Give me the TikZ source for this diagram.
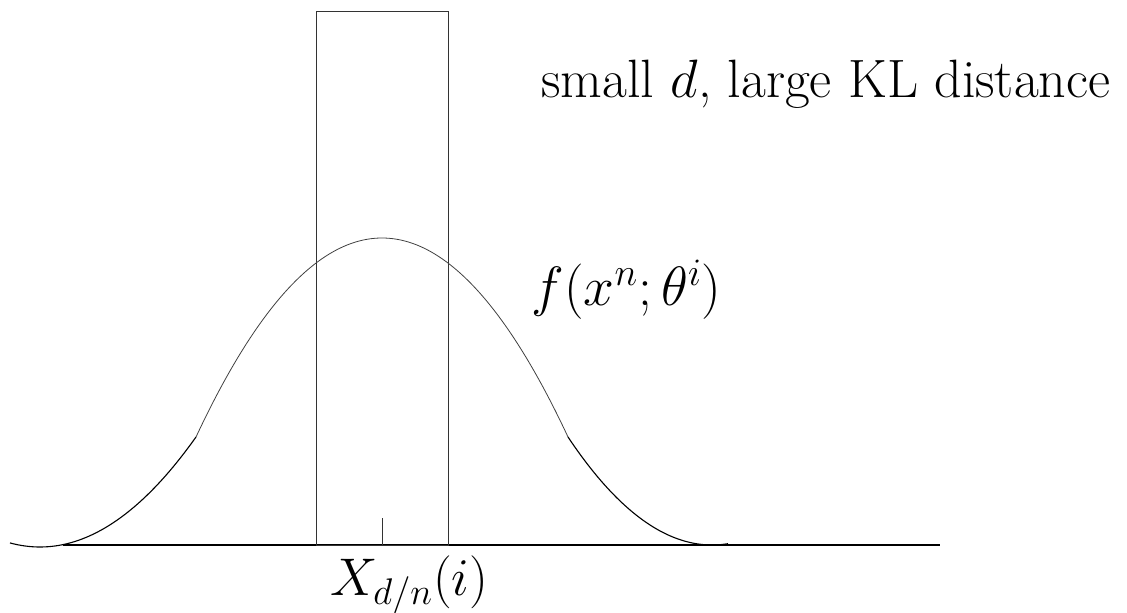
\RequirePackage{fix-cm}
\documentclass[tikz,border=0pt]{standalone}
\usetikzlibrary{positioning, calc}

\begin{document}
\begin{tikzpicture}[
  x=0.5pt, y=-0.5pt,
  txt/.style={inner sep=0pt, anchor=base west, font=\fontsize{27}{32}\selectfont},
  axis/.style={draw=black, line width=0.65pt},
  frame/.style={draw=black!80, line width=0.5pt},
  bell/.style={draw=black, line width=0.55pt},
  bellmid/.style={draw=black!75, line width=0.4pt}
]
\useasboundingbox (0,0) rectangle (1127,613);

% --- base axis and the centre tick ---
\coordinate (axL) at (63,545);
\coordinate (axR) at (940,545);
\draw[axis] (axL) -- (axR);
\coordinate (tick) at (382,545);
\draw[frame] (tick) -- ++(0,-27);

% --- the narrow window round the centre ---
\draw[frame] (316,545) rectangle (448,12);

% --- the density, drawn in three pieces ---
\draw[bell] plot[domain=10:196, samples=50] (\x, {547-110*((\x-40)/156)^2});
\draw[bellmid] plot[domain=196:568, samples=90] (\x, {238+199*((\x-382)/186)^2});
\draw[bell] plot[domain=568:728, samples=50] (\x, {545-108*((\x-712)/144)^2});

% --- labels ---
\node[txt] (title) at (541,98) {small $d$, large KL distance};
\node[txt, font=\fontsize{27.7}{33}\selectfont] (dens) at (531,306) {$f(x^n;\theta^i)$};
\node[txt, font=\fontsize{26.5}{32}\selectfont] (centre) at (330,595) {$X_{d/n}(i)$};

\end{tikzpicture}
\end{document}
